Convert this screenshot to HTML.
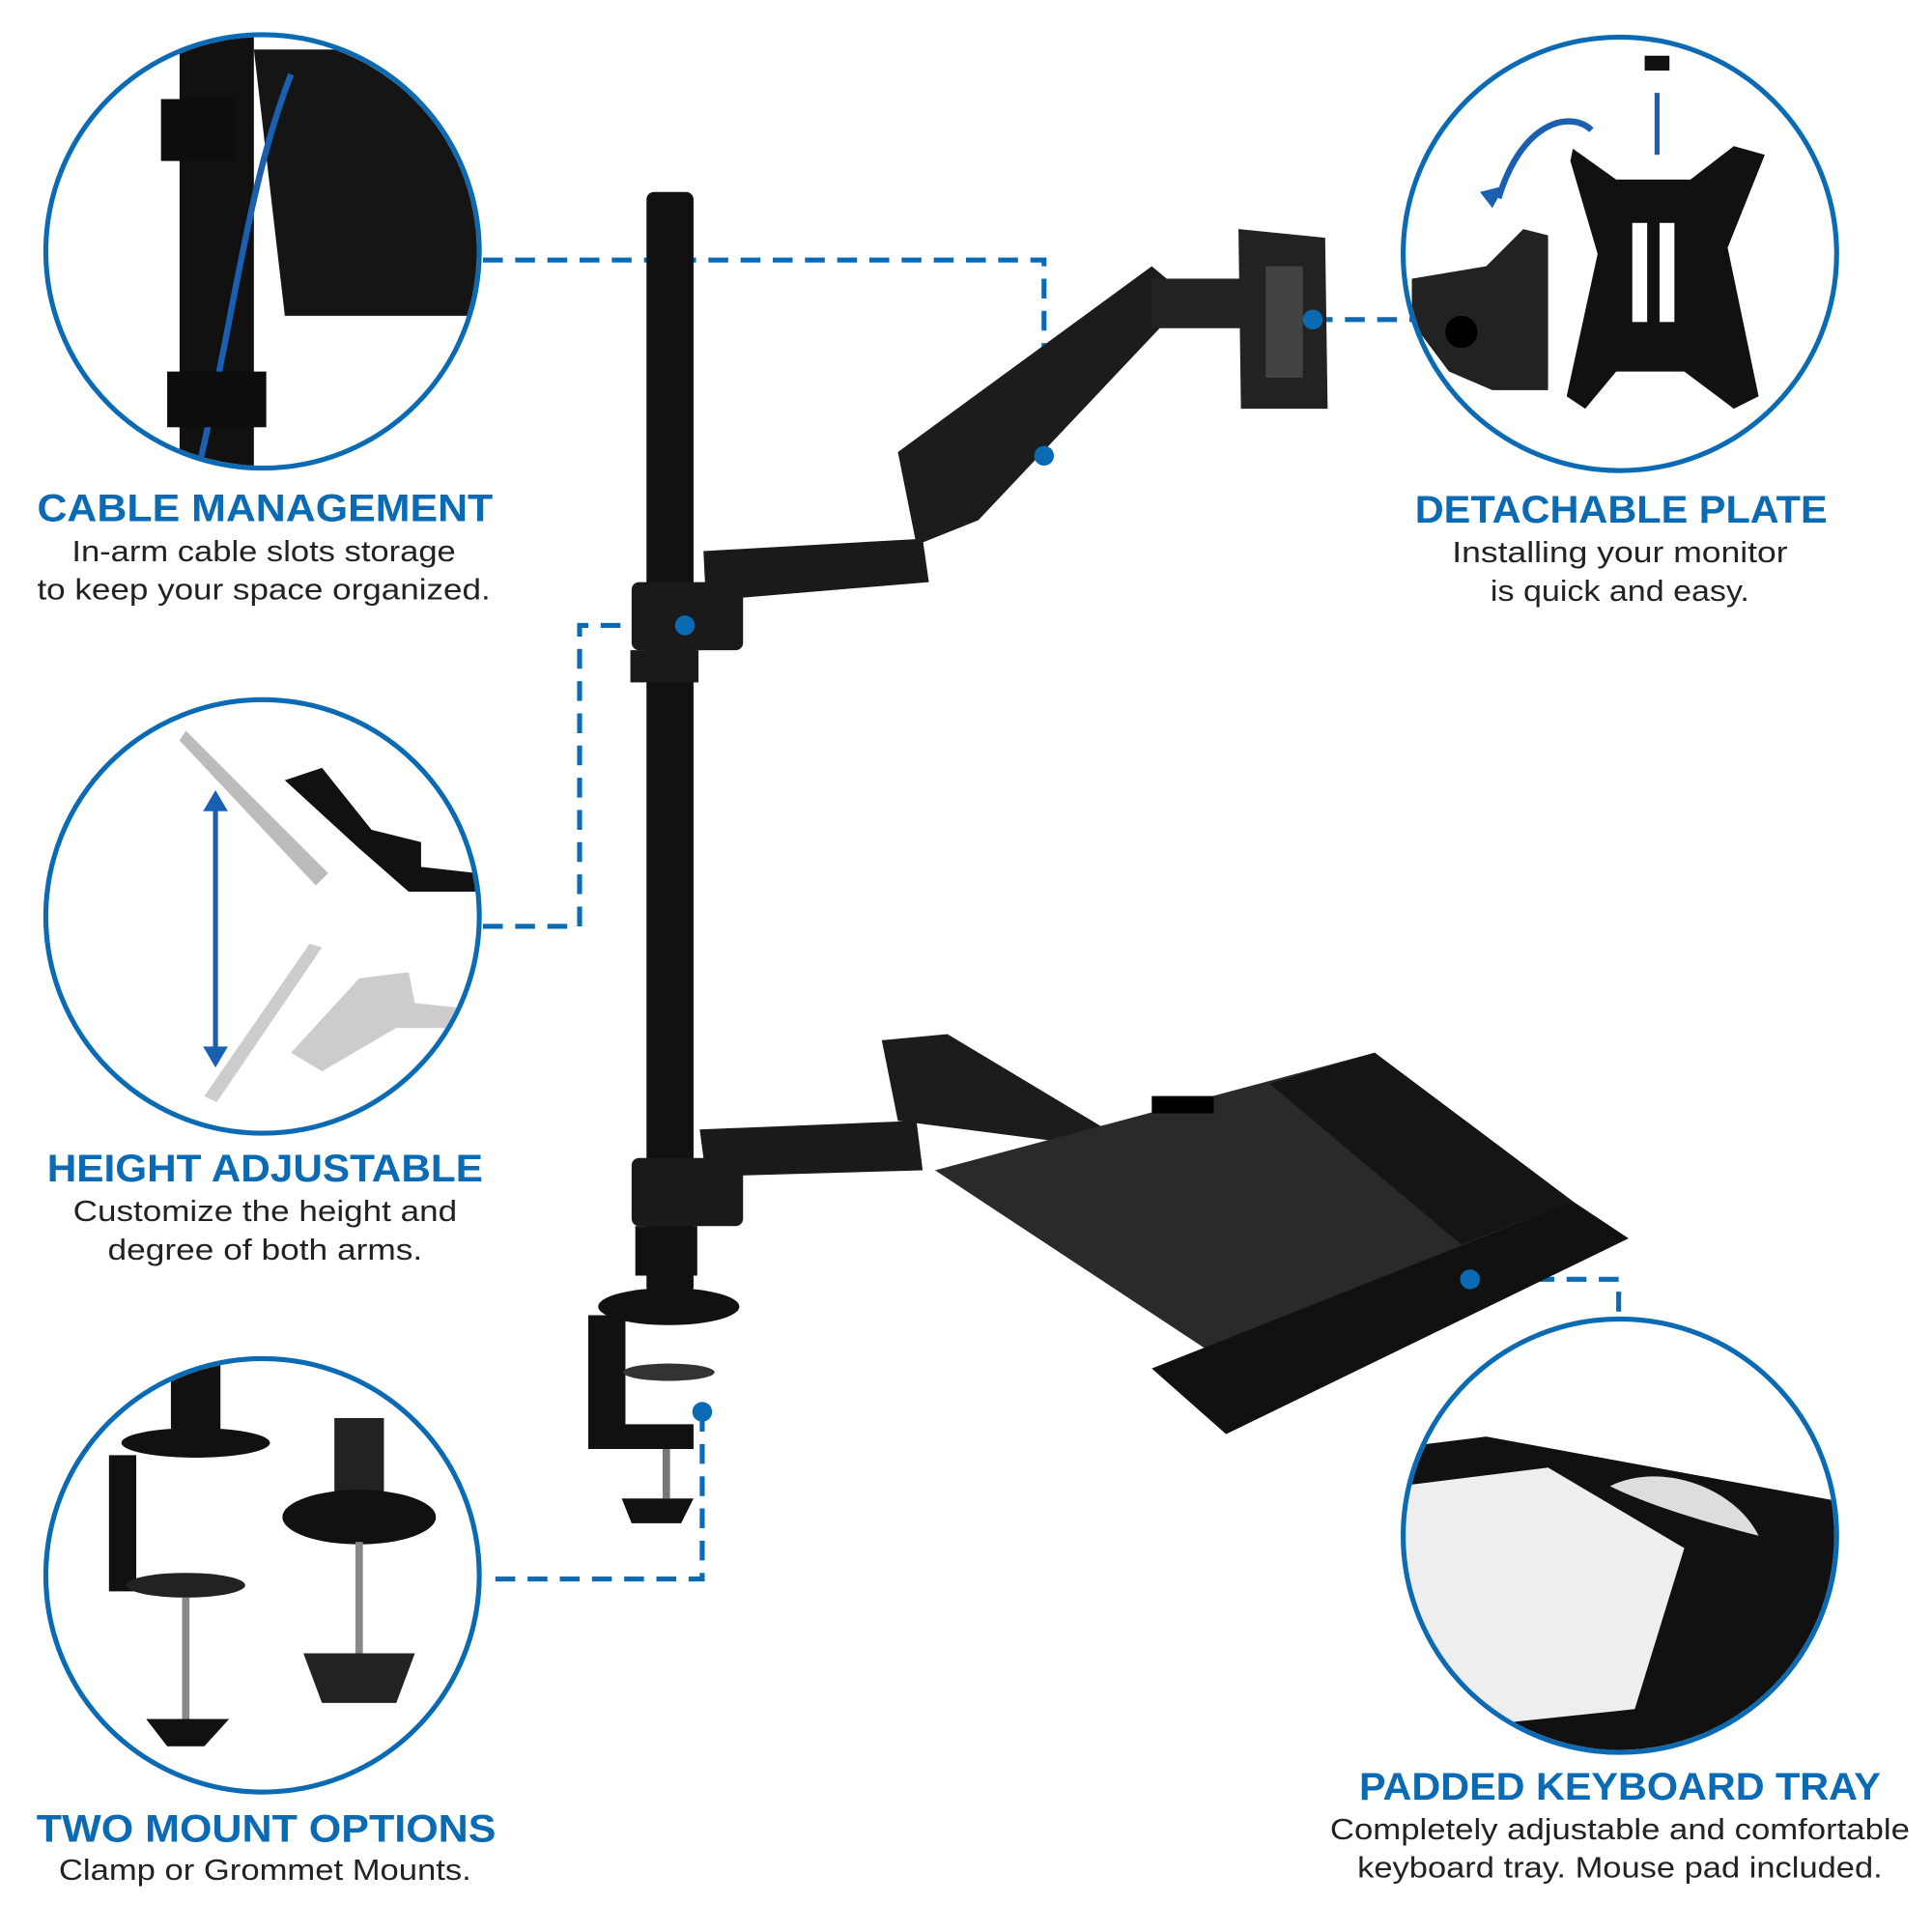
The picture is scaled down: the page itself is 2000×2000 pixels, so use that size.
<!DOCTYPE html>
<html><head><meta charset="utf-8"><style>
html,body{margin:0;padding:0;background:#fff;}
svg{display:block}
.t{font-family:"Liberation Sans",sans-serif;font-weight:bold;fill:#0a6ab3;font-size:31px;text-anchor:middle}
.d{font-family:"Liberation Sans",sans-serif;fill:#222;font-size:24px;text-anchor:middle}
.dash{stroke:#0a6ab3;stroke-width:4;stroke-dasharray:16 10;fill:none}
.c{fill:#fff;stroke:#0a6ab3;stroke-width:4}
</style></head><body>
<svg width="2000" height="2000" viewBox="0 0 1560 1560" xmlns="http://www.w3.org/2000/svg">
<defs>
<clipPath id="c1"><circle cx="212" cy="203" r="173"/></clipPath>
<clipPath id="c2"><circle cx="212" cy="740" r="173"/></clipPath>
<clipPath id="c3"><circle cx="212" cy="1272" r="173"/></clipPath>
<clipPath id="c4"><circle cx="1308" cy="205" r="173"/></clipPath>
<clipPath id="c5"><circle cx="1308" cy="1240" r="173"/></clipPath>
</defs>

<path class="dash" d="M390 210 H843 V368"/>
<path class="dash" d="M553 505 H468 V748 H390"/>
<path class="dash" d="M1060 258 H1140"/>
<path class="dash" d="M567 1140 V1275 H395"/>
<path class="dash" d="M1187 1033 H1307 V1065"/>

<rect x="522" y="155" width="38" height="890" rx="6" fill="#111"/>
<rect x="509" y="525" width="55" height="26" fill="#1a1a1a"/>
<rect x="510" y="470" width="90" height="55" rx="6" fill="#1a1a1a"/>
<path d="M568 445 L745 435 L750 470 L570 485 Z" fill="#1a1a1a"/>
<path d="M725 365 L930 215 L960 240 L790 420 L740 440 Z" fill="#1c1c1c"/>
<rect x="930" y="225" width="75" height="40" fill="#222"/>
<path d="M1000 185 L1070 192 L1072 330 L1002 330 Z" fill="#222"/>
<rect x="1022" y="215" width="30" height="90" fill="#fff" opacity="0.15"/>
<rect x="510" y="935" width="90" height="55" rx="6" fill="#1a1a1a"/>
<path d="M565 912 L740 905 L745 945 L570 950 Z" fill="#1a1a1a"/>
<path d="M712 840 L765 835 L890 910 L880 925 L725 905 Z" fill="#1c1c1c"/>
<path d="M755 945 L1110 850 L1270 970 L990 1100 Z" fill="#2a2a2a"/>
<path d="M1025 875 L1110 850 L1270 970 L1180 1005 Z" fill="#151515"/>
<path d="M930 1105 L1270 970 L1315 1000 L990 1158 Z" fill="#111"/>
<rect x="930" y="885" width="50" height="14" fill="#000"/>
<rect x="513" y="990" width="50" height="40" fill="#111"/>
<ellipse cx="540" cy="1055" rx="57" ry="15" fill="#111"/>
<path d="M475 1062 H505 V1150 H560 V1170 H475 Z" fill="#111"/>
<ellipse cx="540" cy="1108" rx="37" ry="7" fill="#333"/>
<rect x="535" y="1170" width="6" height="40" fill="#777"/>
<path d="M502 1210 H560 L550 1230 H510 Z" fill="#111"/>

<g fill="#0a6ab3">
<circle cx="843" cy="368" r="8"/><circle cx="553" cy="505" r="8"/>
<circle cx="1060" cy="258" r="8"/><circle cx="567" cy="1140" r="8"/>
<circle cx="1187" cy="1033" r="8"/>
</g>

<circle class="c" cx="212" cy="203" r="175"/>
<g clip-path="url(#c1)">
<rect x="145" y="20" width="60" height="370" fill="#111"/>
<path d="M205 40 L390 40 L390 255 L230 255 Z" fill="#151515"/>
<path d="M235 60 C200 150 190 250 160 380" stroke="#1a5fb0" stroke-width="5" fill="none"/>
<rect x="135" y="300" width="80" height="45" fill="#0d0d0d"/>
<rect x="130" y="80" width="60" height="50" fill="#0d0d0d"/>
</g>
<circle class="c" cx="212" cy="740" r="175"/>
<g clip-path="url(#c2)">
<path d="M150 590 L265 705 L255 715 L145 598 Z" fill="#bbb"/>
<path d="M230 630 L260 620 L300 670 L340 680 L340 700 L385 705 L385 720 L330 720 L290 685 Z" fill="#111"/>
<path d="M260 765 L175 890 L165 885 L250 762 Z" fill="#ccc"/>
<path d="M235 850 L290 790 L330 785 L335 810 L385 815 L385 830 L320 830 L260 865 Z" fill="#ccc"/>
<line x1="174" y1="650" x2="174" y2="850" stroke="#1a5fb0" stroke-width="4"/>
<path d="M164 655 L174 638 L184 655 Z M164 845 L174 862 L184 845 Z" fill="#1a5fb0"/>
</g>
<circle class="c" cx="212" cy="1272" r="175"/>
<g clip-path="url(#c3)">
<rect x="138" y="1100" width="40" height="60" fill="#111"/>
<ellipse cx="158" cy="1165" rx="60" ry="12" fill="#111"/>
<path d="M88 1175 H110 V1285 H88 Z" fill="#111"/>
<ellipse cx="150" cy="1280" rx="48" ry="10" fill="#222"/>
<rect x="147" y="1290" width="6" height="100" fill="#888"/>
<path d="M118 1388 H185 L165 1410 H135 Z" fill="#111"/>
<rect x="270" y="1145" width="40" height="70" fill="#222"/>
<ellipse cx="290" cy="1225" rx="62" ry="22" fill="#111"/>
<rect x="287" y="1245" width="6" height="90" fill="#888"/>
<path d="M245 1335 H335 L320 1375 H260 Z" fill="#222"/>
</g>
<circle class="c" cx="1308" cy="205" r="175"/>
<g clip-path="url(#c4)">
<path d="M1270 120 L1305 145 L1365 145 L1400 118 L1425 125 L1395 200 L1420 320 L1400 330 L1360 300 L1305 300 L1280 330 L1265 320 L1290 205 L1268 130 Z" fill="#111"/>
<rect x="1318" y="180" width="12" height="80" fill="#fff"/>
<rect x="1340" y="180" width="12" height="80" fill="#fff"/>
<path d="M1140 225 L1200 215 L1230 185 L1250 190 L1250 315 L1205 315 L1170 300 L1140 260 Z" fill="#222"/>
<circle cx="1180" cy="268" r="13" fill="#000"/>
<path d="M1210 160 C1230 95 1270 90 1285 105" stroke="#1a5fb0" stroke-width="5" fill="none"/>
<path d="M1195 155 L1205 168 L1215 150 Z" fill="#1a5fb0"/>
<line x1="1338" y1="75" x2="1338" y2="125" stroke="#1a5fb0" stroke-width="4"/>
<rect x="1328" y="45" width="20" height="12" fill="#111"/>
</g>
<circle class="c" cx="1308" cy="1240" r="175"/>
<g clip-path="url(#c5)">
<path d="M1120 1170 L1200 1160 L1500 1215 L1500 1420 L1120 1420 Z" fill="#111"/>
<path d="M1130 1200 L1250 1185 L1360 1250 L1320 1380 L1130 1400 Z" fill="#eee"/>
<path d="M1300 1200 C1340 1180 1400 1200 1420 1240 C1380 1230 1330 1215 1300 1200 Z" fill="#ddd"/>
</g>

<text class="t" x="214" y="421" textLength="368" lengthAdjust="spacingAndGlyphs">CABLE MANAGEMENT</text>
<text class="d" x="213" y="453" textLength="310" lengthAdjust="spacingAndGlyphs">In-arm cable slots storage</text>
<text class="d" x="213" y="484" textLength="366" lengthAdjust="spacingAndGlyphs">to keep your space organized.</text>
<text class="t" x="1309" y="422" textLength="333" lengthAdjust="spacingAndGlyphs">DETACHABLE PLATE</text>
<text class="d" x="1308" y="454" textLength="271" lengthAdjust="spacingAndGlyphs">Installing your monitor</text>
<text class="d" x="1308" y="485" textLength="209" lengthAdjust="spacingAndGlyphs">is quick and easy.</text>
<text class="t" x="214" y="954" textLength="352" lengthAdjust="spacingAndGlyphs">HEIGHT ADJUSTABLE</text>
<text class="d" x="214" y="986" textLength="310" lengthAdjust="spacingAndGlyphs">Customize the height and</text>
<text class="d" x="214" y="1017" textLength="254" lengthAdjust="spacingAndGlyphs">degree of both arms.</text>
<text class="t" x="215" y="1487" textLength="371" lengthAdjust="spacingAndGlyphs">TWO MOUNT OPTIONS</text>
<text class="d" x="214" y="1518" textLength="333" lengthAdjust="spacingAndGlyphs">Clamp or Grommet Mounts.</text>
<text class="t" x="1308" y="1453" textLength="421" lengthAdjust="spacingAndGlyphs">PADDED KEYBOARD TRAY</text>
<text class="d" x="1308" y="1485" textLength="468" lengthAdjust="spacingAndGlyphs">Completely adjustable and comfortable</text>
<text class="d" x="1308" y="1516" textLength="424" lengthAdjust="spacingAndGlyphs">keyboard tray. Mouse pad included.</text>
</svg>
</body></html>
